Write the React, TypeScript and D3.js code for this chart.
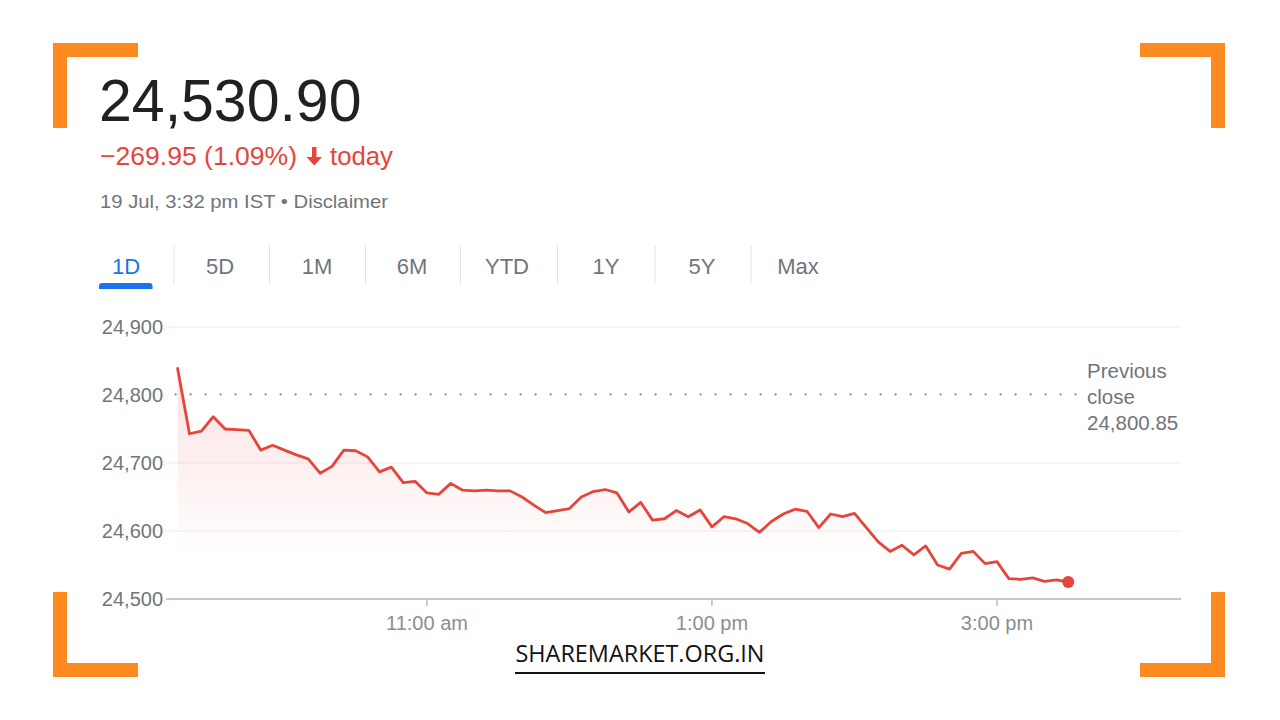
import React from "react";
import * as d3 from "d3";

const prices: number[] = [
  24839, 24743, 24747, 24768, 24750, 24749, 24748, 24719, 24726, 24719,
  24712, 24706, 24685, 24695, 24719, 24718, 24709, 24687, 24694, 24671,
  24673, 24656, 24654, 24670, 24660, 24659, 24660, 24659, 24659, 24650,
  24638, 24627, 24630, 24633, 24650, 24658, 24661, 24656, 24628, 24642,
  24616, 24618, 24630, 24621, 24631, 24606, 24621, 24618, 24611, 24598,
  24614, 24625, 24632, 24629, 24605, 24625, 24621, 24626, 24605, 24584,
  24570, 24579, 24565, 24578, 24550, 24544, 24567, 24570, 24552, 24555,
  24530, 24529, 24531, 24526, 24528, 24525,
];
const startTime = new Date(2024, 6, 19, 9, 15);
const intervalMinutes = 5;
const times: Date[] = prices.map((_, i) => new Date(startTime.getTime() + i * intervalMinutes * 60000));
const yTicks = [24500, 24600, 24700, 24800, 24900];
const xTicks = [new Date(2024, 6, 19, 11, 0), new Date(2024, 6, 19, 13, 0), new Date(2024, 6, 19, 15, 0)];
const xTickLabels = ["11:00 am", "1:00 pm", "3:00 pm"];
const tabs = ["1D", "5D", "1M", "6M", "YTD", "1Y", "5Y", "Max"];
const tabCenters = [126, 220, 317, 412, 507, 606, 702, 798];
const prevClose = 24800.85;
const title = "24,530.90";
const change = "\u2212269.95 (1.09%)";
const dateLine = "19 Jul, 3:32 pm IST \u2022 Disclaimer";

const FONT = "'Liberation Sans', Arial, sans-serif";
const GREY = "#70757a";
const RED = "#e5453b";
const ORANGE = "#fc8a1e";

export default function App() {
  const x = d3.scaleTime()
    .domain([startTime, new Date(2024, 6, 19, 16, 15)])
    .range([177.6, 1175.1]);
  const y = d3.scaleLinear().domain([24500, 24900]).range([599, 327]);
  const data = prices.map((p, i) => ({ t: times[i], p }));
  const line = d3.line<{ t: Date; p: number }>().x(d => x(d.t)).y(d => y(d.p));
  const area = d3.area<{ t: Date; p: number }>().x(d => x(d.t)).y0(y(24500)).y1(d => y(d.p));
  const last = data[data.length - 1];
  const gridLeft = 166;
  const gridRight = 1181;
  const dots = d3.range(x(startTime) - 2, 1084, 15);

  return (
    <svg width={1280} height={720} style={{ position: "absolute", left: 0, top: 0, background: "#fff" }}>
      <rect x={0} y={0} width={1280} height={720} fill="#fff" />
      {/* corner brackets */}
      <g fill={ORANGE}>
        <rect x={53} y={43} width={85} height={14} />
        <rect x={53} y={43} width={14} height={85} />
        <rect x={1140} y={43} width={85} height={14} />
        <rect x={1211} y={43} width={14} height={85} />
        <rect x={53} y={592} width={14} height={85} />
        <rect x={53} y={663} width={85} height={14} />
        <rect x={1211} y={592} width={14} height={85} />
        <rect x={1140} y={663} width={85} height={14} />
      </g>
      {/* header */}
      <text x={99} y={121} fontFamily={FONT} fontSize={59} fill="#202124">{title}</text>
      <text x={100} y={165} fontFamily={FONT} fontSize={26} fill={RED} textLength={197} lengthAdjust="spacingAndGlyphs">{change}</text>
      <path d="M312,147 h4.5 v10 h5.5 l-7.75,8.5 l-7.75,-8.5 h5.5 z" fill={RED} />
      <text x={330} y={165} fontFamily={FONT} fontSize={26} fill={RED} textLength={63} lengthAdjust="spacingAndGlyphs">today</text>
      <text x={100} y={208} fontFamily={FONT} fontSize={19} fill={GREY} textLength={288} lengthAdjust="spacingAndGlyphs">{dateLine}</text>
      {/* tabs */}
      {tabs.map((t, i) => (
        <text key={t} x={tabCenters[i]} y={274} textAnchor="middle" fontFamily={FONT} fontSize={22}
          fill={i === 0 ? "#1a73e8" : GREY}>{t}</text>
      ))}
      {tabCenters.slice(0, -1).map((c, i) => (
        <line key={i} x1={(c + tabCenters[i + 1]) / 2 + 1} x2={(c + tabCenters[i + 1]) / 2 + 1} y1={246} y2={284}
          stroke="#e3e3e3" strokeWidth={1} />
      ))}
      <path d="M99,289 v-3 a3,3 0 0 1 3,-3 h47.5 a3,3 0 0 1 3,3 v3 z" fill="#1a73e8" />
      {/* chart */}
      <defs>
        <linearGradient id="fillGrad" gradientUnits="userSpaceOnUse" x1={0} y1={y(24840)} x2={0} y2={y(24560)}>
          <stop offset="0" stopColor={RED} stopOpacity={0.16} />
          <stop offset="1" stopColor={RED} stopOpacity={0} />
        </linearGradient>
      </defs>
      {yTicks.filter(v => v !== 24500 && v !== 24800).map(v => (
        <line key={v} x1={gridLeft} x2={gridRight} y1={y(v)} y2={y(v)} stroke="#f3f3f3" strokeWidth={1.5} />
      ))}
      {yTicks.map(v => (
        <text key={v} x={163} y={y(v)} dy="0.35em" textAnchor="end" fontFamily={FONT} fontSize={20} fill={GREY}>
          {d3.format(",")(v)}
        </text>
      ))}
      <path d={area(data) || ""} fill="url(#fillGrad)" />
      {dots.map((dx, i) => (
        <circle key={i} cx={dx} cy={y(prevClose)} r={1.1} fill="#888" />
      ))}
      <line x1={gridLeft} x2={gridRight} y1={y(24500)} y2={y(24500)} stroke="#c8c8c8" strokeWidth={2} />
      {xTicks.map((t, i) => (
        <g key={i}>
          <line x1={x(t)} x2={x(t)} y1={y(24500)} y2={y(24500) + 7} stroke="#bdbdbd" strokeWidth={1.5} />
          <text x={x(t)} y={630} textAnchor="middle" fontFamily={FONT} fontSize={20} fill="#8a8e92">{xTickLabels[i]}</text>
        </g>
      ))}
      <path d={line(data) || ""} fill="none" stroke={RED} strokeWidth={2.8} strokeLinejoin="round" strokeLinecap="round" />
      <circle cx={x(last.t)} cy={y(last.p)} r={6} fill={RED} />
      <text fontFamily={FONT} fontSize={20.5} fill={GREY}>
        <tspan x={1087} y={378}>Previous</tspan>
        <tspan x={1087} y={404}>close</tspan>
        <tspan x={1087} y={430}>{d3.format(",.2f")(prevClose)}</tspan>
      </text>
      {/* watermark */}
      <text x={640} y={662} textAnchor="middle" fontFamily="'Open Sans', sans-serif" fontSize={23} fill="#111"
        textLength={249} lengthAdjust="spacingAndGlyphs">SHAREMARKET.ORG.IN</text>
      <line x1={515} x2={765} y1={673} y2={673} stroke="#111" strokeWidth={2} />
    </svg>
  );
}
